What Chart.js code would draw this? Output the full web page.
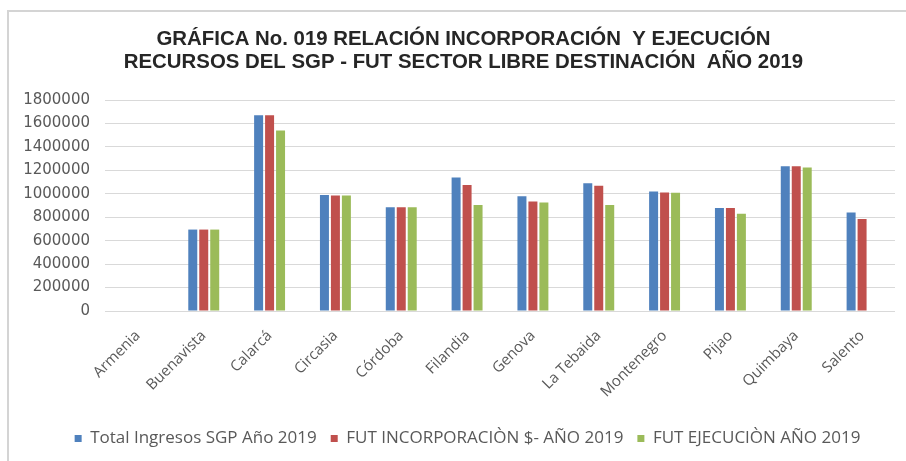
<!DOCTYPE html>
<html>
<head>
<meta charset="utf-8">
<script src="https://cdn.jsdelivr.net/npm/chart.js@4"></script>
<style>
  html, body { margin: 0; padding: 0; background: #fff; }
  #wrap { width: 906px; height: 461px; }
</style>
</head>
<body>
<div id="wrap"><canvas id="barChart" width="906" height="461"></canvas></div>
<script>
const municipios = ["Armenia", "Buenavista", "Calarcá", "Circasia", "Córdoba", "Filandia", "Genova", "La Tebaida", "Montenegro", "Pijao", "Quimbaya", "Salento"];

const totalIngresos = [0, 695000, 1670000, 990000, 885000, 1140000, 980000, 1090000, 1020000, 880000, 1235000, 840000];
const futIncorporacion = [0, 695000, 1670000, 985000, 885000, 1075000, 935000, 1070000, 1012000, 880000, 1235000, 785000];
const futEjecucion = [0, 695000, 1540000, 985000, 885000, 905000, 925000, 905000, 1010000, 830000, 1225000, 0];

const yTicks = [0, 200000, 400000, 600000, 800000, 1000000, 1200000, 1400000, 1600000, 1800000];

const tituloLineas = [
  "GRÁFICA No. 019 RELACIÓN INCORPORACIÓN  Y EJECUCIÓN",
  "RECURSOS DEL SGP - FUT SECTOR LIBRE DESTINACIÓN  AÑO 2019"
];

// marco del grafico (linea izquierda y superior)
const marco = {
  id: "marco",
  beforeDraw(chart) {
    const c = chart.ctx;
    c.save();
    c.fillStyle = "#fff";
    c.fillRect(0, 0, chart.width, chart.height);
    c.strokeStyle = "#d4d4d4";
    c.lineWidth = 2;
    c.beginPath();
    c.moveTo(8, chart.height);
    c.lineTo(8, 11);
    c.lineTo(chart.width, 11);
    c.stroke();
    c.restore();
  }
};

// correr titulo y leyenda un poco a la derecha, como en la original
const centrar = {
  id: "centrar",
  afterLayout(chart) {
    chart.titleBlock.left += 16;
    chart.titleBlock.right += 16;
    chart.legend.left += 20;
    chart.legend.right += 20;
  }
};

const ctx = document.getElementById("barChart").getContext("2d");
const myChart = new Chart(ctx, {
  type: "bar",
  data: {
    labels: municipios,
    datasets: [
      { label: "Total Ingresos SGP Año 2019", data: totalIngresos, backgroundColor: "#4F81BD" },
      { label: "FUT INCORPORACIÒN $- AÑO 2019", data: futIncorporacion, backgroundColor: "#C0504D" },
      { label: "FUT EJECUCIÒN AÑO 2019", data: futEjecucion, backgroundColor: "#9BBB59" }
    ]
  },
  plugins: [marco, centrar],
  options: {
    responsive: false,
    animation: false,
    layout: { padding: { top: 0, right: 11, bottom: 4, left: 0 } },
    datasets: { bar: { categoryPercentage: 0.5, barPercentage: 0.82 } },
    plugins: {
      title: {
        display: true,
        text: tituloLineas,
        color: "#262626",
        font: { family: "Liberation Sans", size: 20.4, weight: "bold", lineHeight: 1.13 },
        padding: { top: 28, bottom: 26 }
      },
      legend: {
        position: "bottom",
        labels: {
          color: "#595959",
          font: { family: "Open Sans", size: 17 },
          boxWidth: 7,
          boxHeight: 7,
          padding: 14
        }
      },
      tooltip: { enabled: false }
    },
    scales: {
      x: {
        grid: { display: false },
        border: { display: false },
        ticks: {
          color: "#595959",
          font: { family: "Open Sans", size: 15 },
          minRotation: 45,
          maxRotation: 45,
          autoSkip: false,
          padding: 8
        },
        afterFit(scale) { scale.height = 105; }
      },
      y: {
        min: 0,
        max: 1800000,
        afterBuildTicks(scale) { scale.ticks = yTicks.map(v => ({ value: v })); },
        grid: { color: "#d9d9d9", drawTicks: false },
        border: { display: false },
        ticks: {
          color: "#595959",
          font: { family: "DejaVu Sans", size: 15 },
          padding: 15,
          callback: v => String(v)
        },
        afterFit(scale) { scale.width = 105; }
      }
    }
  }
});
</script>
</body>
</html>
